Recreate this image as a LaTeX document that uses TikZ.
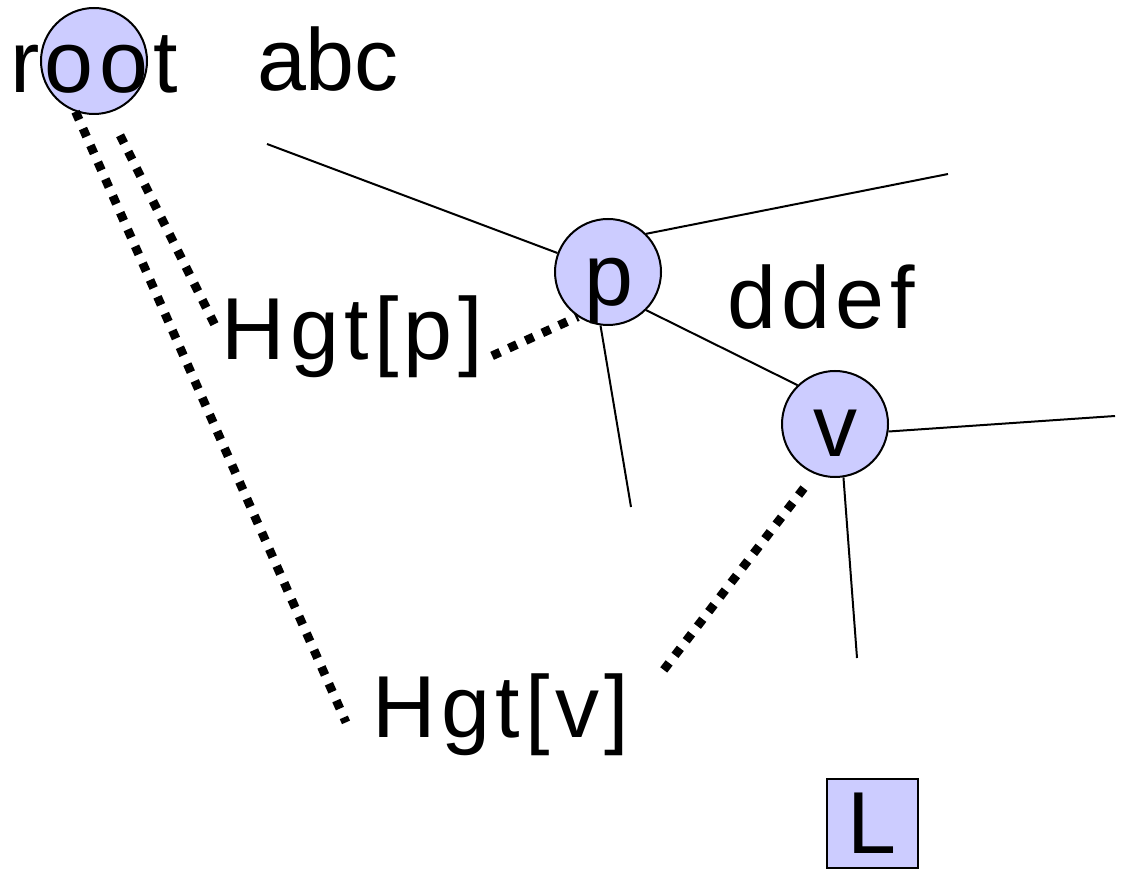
\documentclass[tikz,border=0pt]{standalone}
\usepackage{fontspec}
\setmainfont{Liberation Sans}
\newfontfamily\spaced[LetterSpace=6]{Liberation Sans}
\usepackage{tikz}

\definecolor{vfill}{RGB}{204,204,255}

\begin{document}
\begin{tikzpicture}[x=0.5pt, y=-0.5pt,
  vert/.style={circle, draw, line width=1pt, fill=vfill,
               minimum size=53pt, inner sep=0pt},
  leaf/.style={draw, line width=1pt, fill=vfill, inner sep=0pt,
               minimum width=45.5pt, minimum height=44.5pt,
               font=\fontsize{44}{50}\selectfont},
  lbl/.style={font=\fontsize{44}{50}\selectfont, anchor=base, inner sep=0pt},
  wlbl/.style={lbl, font=\spaced\fontsize{44}{50}\selectfont},
  edge/.style={line width=1pt},
  hgt/.style={line width=4.4pt, dash pattern=on 4.4pt off 4.8pt}]
\useasboundingbox (0,0) rectangle (1122,870);

% tree vertices
\node[vert] (root) at (94,61) {};
\node[vert] (p) at (608,272) {};
\node[vert] (v) at (835,424) {};
\node[leaf] (L) at (872,823) {L};

% loose ends of the subtrees
\coordinate (pin) at (267,144);
\coordinate (pout) at (948,174);
\coordinate (pdown) at (631,507);
\coordinate (vout) at (1115,416);
\coordinate (vdown) at (857,658);

% labels
\node[wlbl] (rootlbl) at (94,93) {root};
\node[lbl] (abc) at (328,91) {abc};
\node[wlbl] (ddef) at (821,329) {ddef};
\node[lbl] (plbl) at (609,306) {p};
\node[lbl] (vlbl) at (835,457) {v};
\node[wlbl] (hp) at (352,360) {Hgt[p]};
\node[wlbl] (hv) at (501,737) {Hgt[v]};

% tree edges
\draw[edge] (pin) -- (p);
\draw[edge] (p.45) -- (pout);
\draw[edge] (p.-45) -- (v.134);
\draw[edge] (p.262) -- (pdown);
\draw[edge] (v.-8) -- (vout);
\draw[edge] (v.-81) -- (vdown);

% heights
\draw[hgt, shorten >=8pt] (root.250) -- ([xshift=-10pt]hv.base west);
\draw[hgt, shorten <=12.5pt, shorten >=5pt] (root.286) -- (hp.west);
\draw[hgt, shorten <=5pt] (hp.base east) -- (p.236);
\draw[hgt, shorten <=28pt, shorten >=4.5pt] (hv.east) -- (v.248);
\end{tikzpicture}
\end{document}
